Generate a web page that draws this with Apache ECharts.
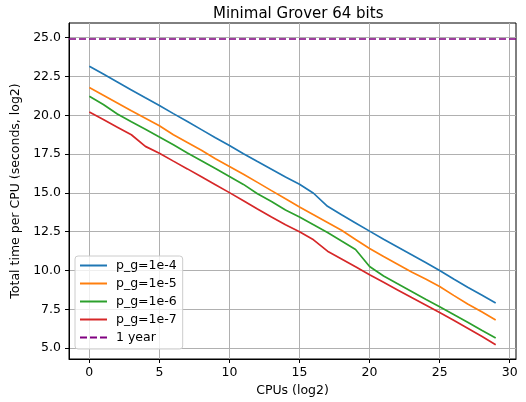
<!DOCTYPE html>
<html>
<head>
<meta charset="utf-8">
<script src="https://cdn.jsdelivr.net/npm/echarts@6/dist/echarts.min.js"></script>
<style>html,body{margin:0;padding:0;background:#fff;}#c{width:526px;height:402px;}</style>
</head>
<body>
<div id="c"></div>
<script>
const cpus = [0,1,2,3,4,5,6,7,8,9,10,11,12,13,14,15,16,17,18,19,20,21,22,23,24,25,26,27,28,29];
const pg4 = [23.17,22.66,22.15,21.64,21.13,20.63,20.11,19.6,19.08,18.56,18.05,17.53,17.02,16.52,16.02,15.56,14.98,14.14,13.6,13.07,12.54,12.02,11.52,11.02,10.52,10.0,9.45,8.93,8.42,7.91];
const pg5 = [21.79,21.3,20.8,20.3,19.82,19.33,18.75,18.25,17.75,17.2,16.7,16.2,15.68,15.15,14.62,14.1,13.6,13.1,12.6,12.0,11.42,10.9,10.4,9.9,9.45,8.97,8.4,7.85,7.35,6.81];
const pg6 = [21.23,20.7,20.09,19.58,19.1,18.6,18.1,17.58,17.08,16.57,16.06,15.55,14.95,14.45,13.9,13.45,12.95,12.45,11.9,11.36,10.26,9.65,9.15,8.65,8.15,7.67,7.17,6.67,6.15,5.65];
const pg7 = [20.22,19.73,19.24,18.75,18.0,17.56,17.05,16.55,16.04,15.53,15.02,14.5,13.97,13.45,12.95,12.5,11.98,11.25,10.75,10.24,9.73,9.24,8.75,8.26,7.78,7.3,6.8,6.28,5.76,5.22];
const oneYear = 24.91;
const xTicks = [0,5,10,15,20,25,30];
const yTicks = [5.0,7.5,10.0,12.5,15.0,17.5,20.0,22.5,25.0];
const names = ['p_g=1e-4','p_g=1e-5','p_g=1e-6','p_g=1e-7','1 year'];
const colors = ['#1f77b4','#ff7f0e','#2ca02c','#d62728','#800080'];
const seriesVals = [pg4,pg5,pg6,pg7];

const font = 'DejaVu Sans';
const fs = 12.5;
const chart = echarts.init(document.getElementById('c'), null, {renderer:'canvas'});
const series = seriesVals.map((vals,i)=>({
  name: names[i], type:'line', data: cpus.map((c,j)=>[c, vals[j]]),
  symbol:'none', showSymbol:false, lineStyle:{width:1.7, color:colors[i]}, itemStyle:{color:colors[i]}, z:3
}));
series.push({
  name: names[4], type:'line', data: [], symbol:'none',
  lineStyle:{width:1.7, color:colors[4], type:[7,3]}, itemStyle:{color:colors[4]},
  markLine:{silent:true, symbol:'none', label:{show:false},
    lineStyle:{width:1.7, color:colors[4], type:[7,3]},
    data:[{yAxis: oneYear}]}
});
chart.setOption({
  animation:false,
  backgroundColor:'#fff',
  title:{text:'Minimal Grover 64 bits', left:208, top:2,
    textStyle:{fontFamily:font, fontSize:15, fontWeight:'normal', color:'#000'}},
  grid:{left:69, right:10, top:23, bottom:43, show:true, borderColor:'#000', borderWidth:1, containLabel:false},
  legend:{
    orient:'vertical', left:75, top:256,
    data: names,
    itemWidth:27, itemHeight:14, itemGap:5,
    padding:[3,6,5,4],
    itemStyle:{opacity:0},
    backgroundColor:'rgba(255,255,255,0.8)', borderColor:'#cccccc', borderWidth:1, borderRadius:3,
    textStyle:{fontFamily:font, fontSize:fs, color:'#000', padding:[0,0,0,4]}
  },
  xAxis:{
    type:'value', min:-1.45, max:30.45,
    name:'CPUs (log2)', nameLocation:'middle', nameGap:22,
    nameTextStyle:{fontFamily:font, fontSize:fs, color:'#000'},
    axisLine:{show:true, onZero:false, lineStyle:{color:'#000', width:1}},
    axisTick:{show:true, length:4, lineStyle:{color:'#000'}, customValues:xTicks},
    axisLabel:{fontFamily:font, fontSize:fs, color:'#000', margin:7, customValues:xTicks},
    splitLine:{show:true, lineStyle:{color:'#b0b0b0', width:1}}
  },
  yAxis:{
    type:'value', min:4.3, max:25.95,
    name:'Total time per CPU (seconds, log2)', nameLocation:'middle', nameGap:38,
    nameTextStyle:{fontFamily:font, fontSize:fs, color:'#000'},
    axisLine:{show:true, onZero:false, lineStyle:{color:'#000', width:1}},
    axisTick:{show:true, length:4, lineStyle:{color:'#000'}, customValues:yTicks},
    axisLabel:{fontFamily:font, fontSize:fs, color:'#000', margin:8, customValues:yTicks, formatter:v=>Number(v).toFixed(1)},
    splitLine:{show:true, lineStyle:{color:'#b0b0b0', width:1}}
  },
  series: series
});
</script>
</body>
</html>
